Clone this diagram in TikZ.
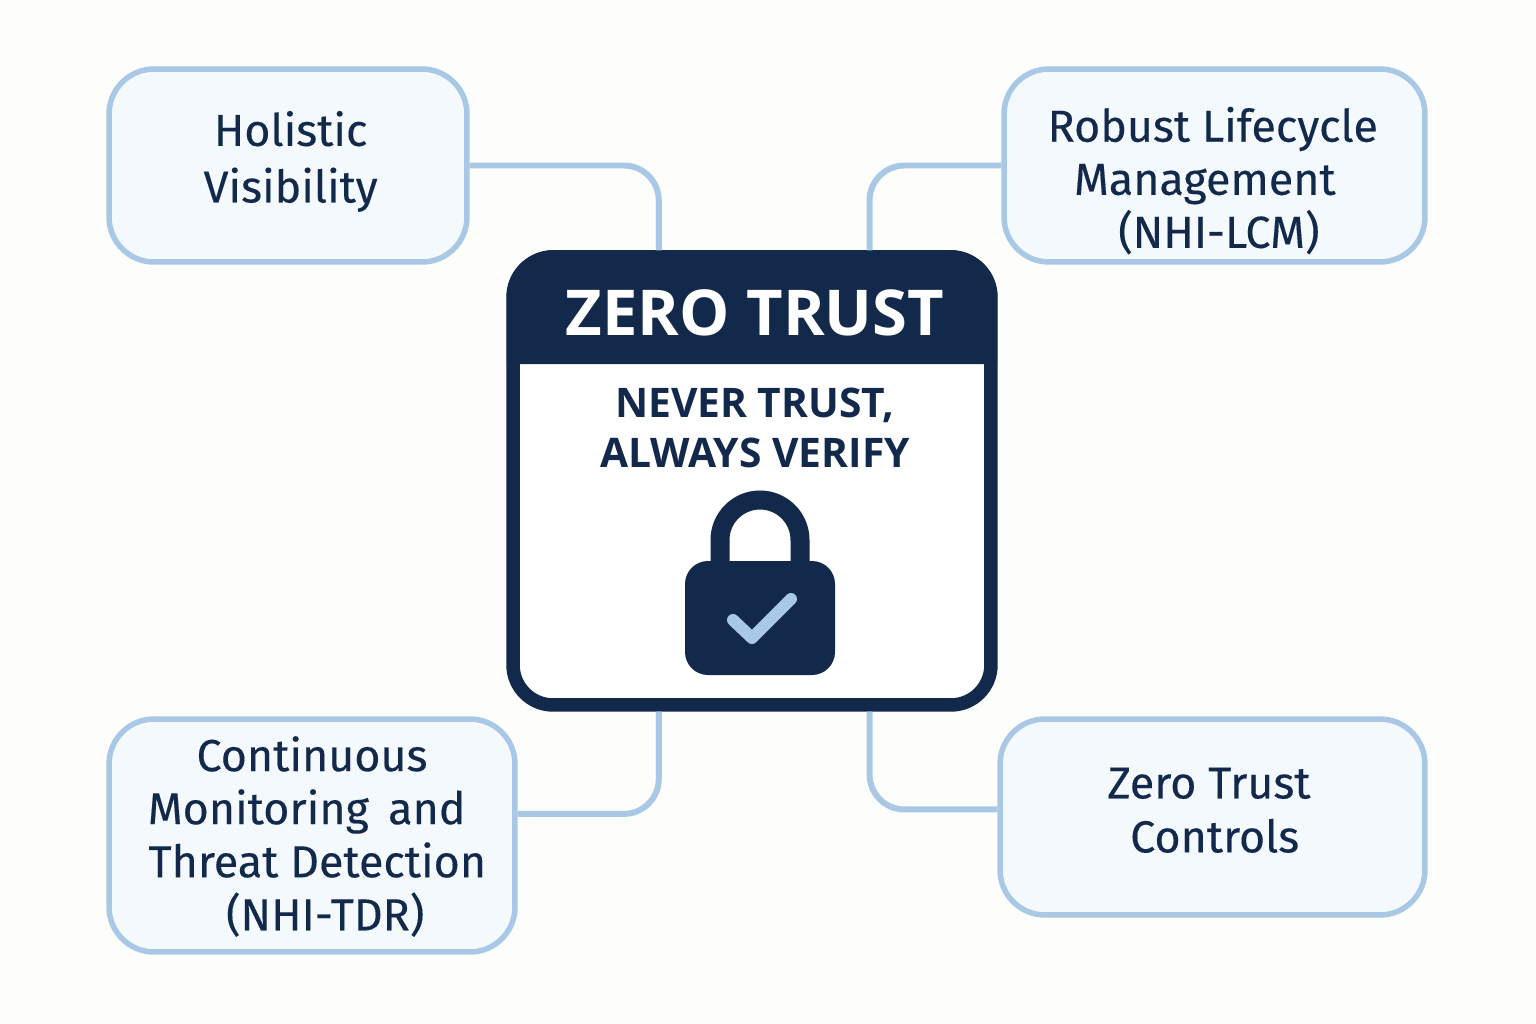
\documentclass[tikz,border=0pt]{standalone}
\usepackage{fontspec}
\setmainfont{Fira Sans}[FakeBold=0.25]
\newfontfamily\cardfont{Open Sans}
\definecolor{navy}{HTML}{12294B}
\definecolor{sky}{HTML}{A9C8E6}
\definecolor{pale}{HTML}{F4F9FE}
\definecolor{paper}{HTML}{FDFDFC}
\begin{document}
\begin{tikzpicture}[x=0.02cm,y=-0.02cm,
  topic/.style={draw=sky,fill=pale,line width=0.11cm,rounded corners=0.9cm,text=navy,align=center,inner sep=0pt,font=\fontsize{25.5}{30.2}\selectfont},
  link/.style={draw=sky,line width=0.12cm,rounded corners=0.7cm}]
\fill[paper] (0,0) rectangle (1536,1024);
% the four topics
\node[topic,minimum width=7.16cm,minimum height=3.86cm,text depth=10pt] (holistic) at (288,165.5) {\hspace*{3pt}Holistic\\[2pt]\hspace*{3pt}Visibility};
\node[topic,minimum width=8.42cm,minimum height=3.86cm] (robust) at (1214.5,165.5) {\rule{0pt}{37pt}\hspace*{-2pt}Robust Lifecycle\\\hspace*{-11pt}Management\\\hspace*{5pt}(NHI-LCM)};
\node[topic,minimum width=8.12cm,minimum height=4.66cm] (continuous) at (312,835.5) {\rule{0pt}{21pt}Continuous\\\hspace*{-6pt}Monitoring\, and\\\hspace*{6pt}Threat Detection\\\hspace*{15pt}(NHI-TDR)};
\node[topic,minimum width=8.50cm,minimum height=3.92cm,text depth=8pt] (controls) at (1212.5,817) {\hspace*{-4pt}Zero Trust\\[0.5pt]\hspace*{2.5pt}Controls};
% middle card
\node[draw=navy,fill=white,line width=0.27cm,rounded corners=0.8cm,minimum width=9.56cm,minimum height=8.96cm,inner sep=0pt] (zero) at (752,481) {};
\fill[navy] (506.8,364) [rounded corners=0.94cm] -- (506.8,250) -- (997.2,250) [sharp corners] -- (997.2,364) -- cycle;
\node[text=white,font=\cardfont\bfseries\fontsize{36}{40}\selectfont] (title) at (755,313) {ZERO TRUST};
\node[text=navy,align=center,font=\cardfont\bfseries\fontsize{23.2}{28}\selectfont] (motto) at (755,428) {NEVER TRUST,\\ALWAYS VERIFY};
% lock
\draw[navy,line width=0.38cm] (720,565) -- (720,540) arc (180:360:40 and 40) -- (800,565);
\fill[navy,rounded corners=0.46cm] (685,561) rectangle (835,675);
\draw[sky,line width=0.24cm,line cap=round,line join=round] (733,620) -- (752,638) -- (791,599);
% connectors
\draw[link] (holistic.east) -| (zero.112.5);
\draw[link] (robust.west) -| (zero.63.3);
\draw[link] (zero.248.3) |- (continuous.6.5);
\draw[link] (zero.297.5) |- (controls.178.4);
\end{tikzpicture}
\end{document}
